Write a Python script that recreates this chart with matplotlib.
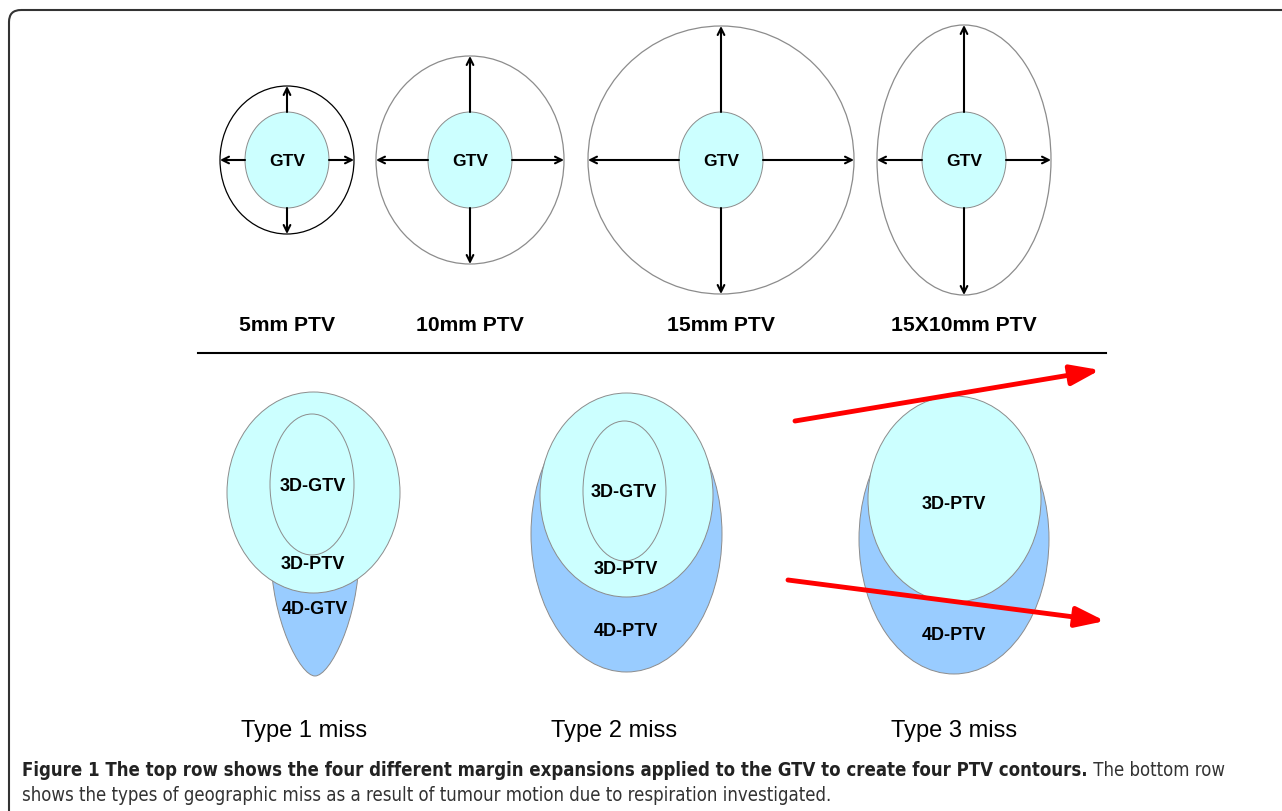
import matplotlib
matplotlib.use("Agg")
import matplotlib.pyplot as plt
from matplotlib import font_manager
from matplotlib.patches import Ellipse, FancyArrowPatch, FancyBboxPatch, PathPatch
from matplotlib.path import Path

# -----------------------------------------
# Données du schéma (coordonnées en pixels de l'image)
# -----------------------------------------
top_labels = ["5mm PTV", "10mm PTV", "15mm PTV", "15X10mm PTV"]
top_cx = [287, 470, 721, 964]
ptv_rx = [67, 94, 133, 87]          # demi-axe horizontal du PTV
ptv_ry = [74, 104, 134, 135]        # demi-axe vertical du PTV
ptv_edge = ["black", "#8c8c8c", "#8c8c8c", "#8c8c8c"]
gtv_rx, gtv_ry, top_cy = 42, 48, 161

type_labels = ["Type 1 miss", "Type 2 miss", "Type 3 miss"]
type_x = [304, 614, 954]

caption_bold = "Figure 1 The top row shows the four different margin expansions applied to the GTV to create four PTV contours."
caption_rest = " The bottom row"
caption_line2 = "shows the types of geographic miss as a result of tumour motion due to respiration investigated."

cyan = "#CCFFFF"
blue = "#99CCFF"
grey = "#8c8c8c"
arial = "Liberation Sans"

# police étroite pour la légende si disponible
cap_stretch = "normal"
for f in font_manager.fontManager.ttflist:
    if f.name == "DejaVu Sans" and str(f.stretch) in ("condensed", "semi-condensed"):
        cap_stretch = "condensed"
cap_font = ["DejaVu Sans"]

fig = plt.figure(figsize=(12.82, 8.12), dpi=100)
ax = fig.add_axes([0, 0, 1, 1])
ax.set_xlim(0, 1282)
ax.set_ylim(812, 0)
ax.axis("off")

# cadre arrondi (coupé à droite et en bas)
ax.add_patch(FancyBboxPatch((9, 11), 1320, 850, boxstyle="round,pad=0,rounding_size=12",
                            fc="none", ec="#333333", lw=1.5))

def arrow(x0, y0, x1, y1, color="black", lw=1.5, ms=12, style="->", z=5):
    ax.add_patch(FancyArrowPatch((x0, y0), (x1, y1), arrowstyle=style, mutation_scale=ms,
                                 color=color, lw=lw, shrinkA=0, shrinkB=0, zorder=z))

# -----------------------------------------
# Rangée du haut : marges PTV
# -----------------------------------------
for cx, rx, ry, ec, lab in zip(top_cx, ptv_rx, ptv_ry, ptv_edge, top_labels):
    ax.add_patch(Ellipse((cx, top_cy), 2 * rx, 2 * ry, fc="white", ec=ec, lw=0.9, zorder=1))
    ax.add_patch(Ellipse((cx, top_cy), 2 * gtv_rx, 2 * gtv_ry, fc=cyan, ec=grey, lw=0.7, zorder=2))
    ax.text(cx, top_cy + 1, "GTV", ha="center", va="center", fontsize=12.5,
            fontweight="bold", family=arial, zorder=6)
    arrow(cx, top_cy - gtv_ry, cx, top_cy - ry)
    arrow(cx, top_cy + gtv_ry, cx, top_cy + ry)
    arrow(cx - gtv_rx, top_cy, cx - rx, top_cy)
    arrow(cx + gtv_rx, top_cy, cx + rx, top_cy)
    ax.text(cx, 326, lab, ha="center", va="center", fontsize=15.2,
            fontweight="bold", family=arial)

ax.plot([198, 1106], [354, 354], color="black", lw=1.5)

# -----------------------------------------
# Rangée du bas : types de ratés géographiques
# -----------------------------------------
# Type 1 : 4D-GTV en goutte sous le 3D-PTV
drop = Path([(271, 555), (271, 620), (300, 677), (315, 677),
             (330, 677), (359, 620), (359, 555), (271, 555)],
            [Path.MOVETO, Path.CURVE4, Path.CURVE4, Path.CURVE4,
             Path.CURVE4, Path.CURVE4, Path.CURVE4, Path.CLOSEPOLY])
ax.add_patch(PathPatch(drop, fc=blue, ec=grey, lw=0.7, zorder=1))
ax.add_patch(Ellipse((313.5, 493.5), 173, 201, fc=cyan, ec=grey, lw=0.7, zorder=2))
ax.add_patch(Ellipse((312, 485.5), 84, 141, fc=cyan, ec=grey, lw=0.7, zorder=3))
ax.text(313, 487, "3D-GTV", ha="center", va="center", fontsize=13, fontweight="bold", family=arial, zorder=6)
ax.text(313, 565, "3D-PTV", ha="center", va="center", fontsize=13, fontweight="bold", family=arial, zorder=6)
ax.text(315, 610, "4D-GTV", ha="center", va="center", fontsize=13, fontweight="bold", family=arial, zorder=6)

# Type 2
ax.add_patch(Ellipse((626.5, 535), 191, 276, fc=blue, ec=grey, lw=0.7, zorder=1))
ax.add_patch(Ellipse((626.5, 496), 173, 204, fc=cyan, ec=grey, lw=0.7, zorder=2))
ax.add_patch(Ellipse((624.5, 492), 83, 140, fc=cyan, ec=grey, lw=0.7, zorder=3))
ax.text(624, 493, "3D-GTV", ha="center", va="center", fontsize=13, fontweight="bold", family=arial, zorder=6)
ax.text(626, 570, "3D-PTV", ha="center", va="center", fontsize=13, fontweight="bold", family=arial, zorder=6)
ax.text(626, 632, "4D-PTV", ha="center", va="center", fontsize=13, fontweight="bold", family=arial, zorder=6)

# Type 3
ax.add_patch(Ellipse((954, 540), 190, 270, fc=blue, ec=grey, lw=0.7, zorder=1))
ax.add_patch(Ellipse((954.5, 500), 173, 206, fc=cyan, ec=grey, lw=0.7, zorder=2))
ax.text(954, 505, "3D-PTV", ha="center", va="center", fontsize=13, fontweight="bold", family=arial, zorder=6)
ax.text(954, 636, "4D-PTV", ha="center", va="center", fontsize=13, fontweight="bold", family=arial, zorder=6)
arrow(795, 422, 1100, 371, color="#ff0000", lw=3.5, ms=22, style="-|>,head_length=0.8,head_width=0.28", z=7)
arrow(788, 581, 1105, 622, color="#ff0000", lw=3.5, ms=22, style="-|>,head_length=0.8,head_width=0.28", z=7)

for x, lab in zip(type_x, type_labels):
    ax.text(x, 731, lab, ha="center", va="center", fontsize=17, family=arial,
            fontweight="medium", color="black")

# -----------------------------------------
# Légende de la figure (taille ajustée à la largeur de la référence)
# -----------------------------------------
renderer = fig.canvas.get_renderer()
fs = 13.5
t1 = ax.text(22, 771, caption_bold, ha="left", va="center", fontsize=fs, fontweight="bold",
             family=cap_font, stretch=cap_stretch, color="#222222")
t2 = ax.text(22, 771, caption_rest, ha="left", va="center", fontsize=fs,
             family=cap_font, stretch=cap_stretch, color="#333333")
w = t1.get_window_extent(renderer).width + t2.get_window_extent(renderer).width
fs = fs * 1211 / w
t1.set_fontsize(fs)
t2.set_fontsize(fs)
t2.set_x(22 + t1.get_window_extent(renderer).width)
ax.text(22, 796, caption_line2, ha="left", va="center", fontsize=fs,
        family=cap_font, stretch=cap_stretch, color="#333333")

fig.savefig("out.png", dpi=100)
